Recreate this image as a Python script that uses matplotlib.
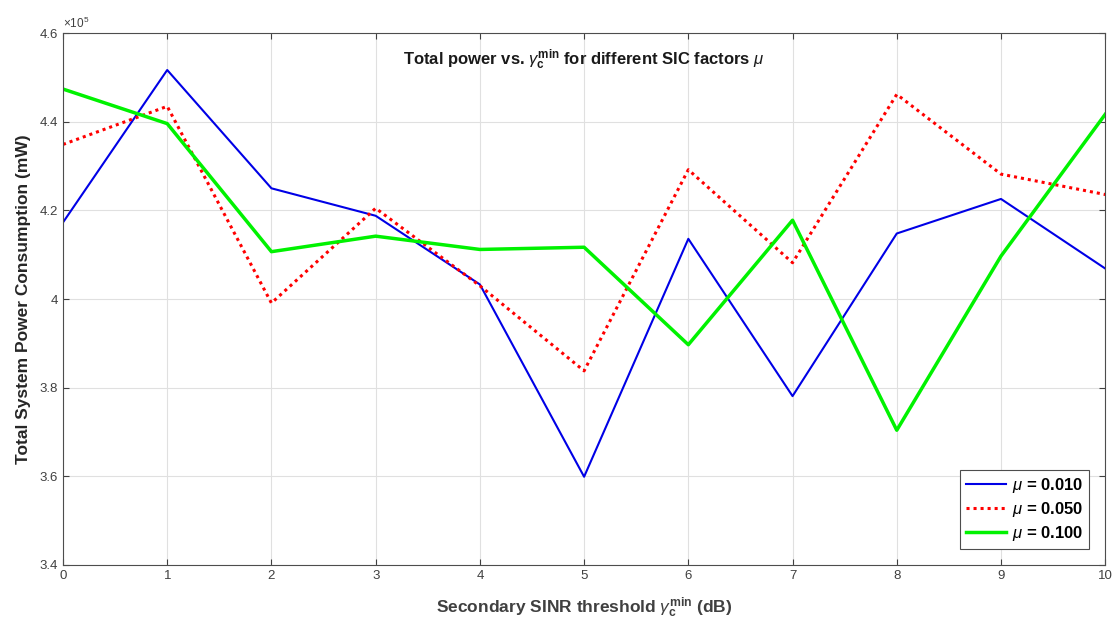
import numpy as np
import matplotlib
matplotlib.use('Agg')
import matplotlib.pyplot as plt
from matplotlib.ticker import FuncFormatter

plt.rcParams['font.family'] = ['Liberation Sans', 'DejaVu Sans']
plt.rcParams['mathtext.fontset'] = 'custom'
plt.rcParams['mathtext.rm'] = 'Liberation Sans'
plt.rcParams['mathtext.it'] = 'Liberation Sans:italic'
plt.rcParams['mathtext.bf'] = 'Liberation Sans:bold'

# threshold in dB
gamma_db = [0, 1, 2, 3, 4, 5, 6, 7, 8, 9, 10]
scale = 1e5

# total power, in units of 1e5 mW
p_mu010 = [4.173, 4.517, 4.250, 4.188, 4.033, 3.599, 4.136, 3.781, 4.148, 4.226, 4.069]
p_mu050 = [4.349, 4.435, 3.991, 4.205, 4.030, 3.838, 4.292, 4.082, 4.462, 4.282, 4.236]
p_mu100 = [4.474, 4.396, 4.107, 4.142, 4.112, 4.117, 3.897, 4.178, 3.704, 4.097, 4.417]

labels = [r'$\mu$ = 0.010', r'$\mu$ = 0.050', r'$\mu$ = 0.100']

fig = plt.figure(figsize=(11.13, 6.27), dpi=100)
ax = fig.add_axes([0.0566, 0.099, 0.9364, 0.848])

x = np.array(gamma_db)
ax.plot(x, np.array(p_mu010) * scale, color=(0, 0, 0.9), lw=1.5, label=labels[0])
ax.plot(x, np.array(p_mu050) * scale, color=(1, 0, 0), lw=2.2, ls=(0, (1, 1.3)), label=labels[1])
ax.plot(x, np.array(p_mu100) * scale, color=(0, 0.95, 0), lw=2.5, label=labels[2])

ax.set_xlim(0, 10)
ax.set_ylim(3.4e5, 4.6e5)
ax.set_xticks(gamma_db)
ax.set_yticks(np.arange(3.4, 4.61, 0.2) * scale)
ax.yaxis.set_major_formatter(FuncFormatter(lambda v, p: '%g' % round(v / scale, 2)))
ax.text(0.0, 1.005, r'$\times10^5$', transform=ax.transAxes, fontsize=8.5, color='0.25', va='bottom')

ax.grid(True, color='0.88', lw=0.8)
ax.set_axisbelow(True)
ax.tick_params(direction='in', top=True, right=True, labelsize=9.5, colors='0.25', length=4)
for s in ax.spines.values():
    s.set_color('0.3')
    s.set_linewidth(0.8)

ax.set_xlabel(r'Secondary SINR threshold $\gamma_{\mathbf{c}}^{\mathbf{min}}$ (dB)',
              fontsize=12.5, fontweight='bold', color='0.25', labelpad=10)
ax.set_ylabel('Total System Power Consumption (mW)', fontsize=12.5, fontweight='bold',
              color='0.15', labelpad=6)
ax.text(0.5, 0.95, r'Total power vs. $\gamma_{\mathbf{c}}^{\mathbf{min}}$ for different SIC factors $\mu$',
        transform=ax.transAxes, ha='center', va='center', fontsize=12, fontweight='bold', color='0.1')

leg = ax.legend(loc='lower right', prop={'weight': 'bold', 'size': 12},
                fancybox=False, framealpha=1, edgecolor='0.3', handlelength=2.4,
                borderaxespad=0.95, labelspacing=0.3, handletextpad=0.4, borderpad=0.35)
leg.get_frame().set_linewidth(0.8)

fig.savefig('out.png', dpi=100)
